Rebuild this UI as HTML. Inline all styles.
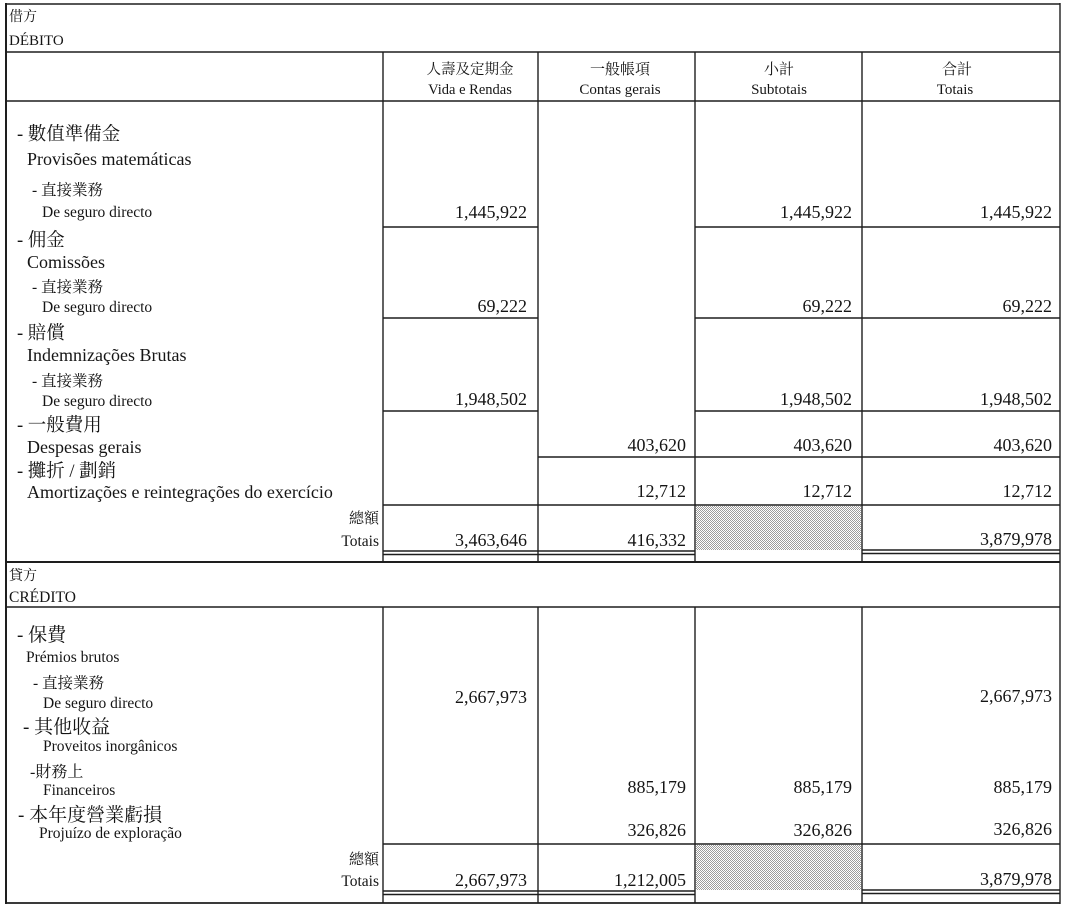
<!DOCTYPE html>
<html>
<head>
<meta charset="utf-8">
<style>
html,body{margin:0;padding:0;background:#fff;}
svg{display:block;}
text{font-family:"Liberation Serif","Noto Serif CJK SC",serif;fill:#151515;}
.n{font-size:18px;text-anchor:end;}
.r{text-anchor:end;}
.h{text-anchor:middle;}
</style>
</head>
<body>
<svg width="1070" height="922" viewBox="0 0 1070 922" xmlns="http://www.w3.org/2000/svg">
<defs>
<pattern id="dots" width="2" height="2" patternUnits="userSpaceOnUse">
<rect width="2" height="2" fill="#ffffff"/>
<rect x="0" y="0" width="1" height="1" fill="#9c9c9c"/>
<rect x="1" y="1" width="1" height="1" fill="#9c9c9c"/>
</pattern>
</defs>

<!-- shaded cells -->
<rect x="696" y="506" width="165" height="44" fill="url(#dots)"/>
<rect x="696" y="845" width="165" height="45" fill="url(#dots)"/>

<g stroke="#1e1e1e" stroke-width="1.4" fill="none">
<!-- outer box -->
<line x1="6" y1="4" x2="1060" y2="4"/>
<line x1="6" y1="3" x2="6" y2="904" stroke-width="2"/>
<line x1="1060" y1="3" x2="1060" y2="904"/>
<line x1="6" y1="903" x2="1060" y2="903" stroke-width="1.8"/>

<!-- debit header -->
<line x1="6" y1="52" x2="1060" y2="52"/>
<line x1="6" y1="101" x2="1060" y2="101"/>
<line x1="383" y1="52" x2="383" y2="562"/>
<line x1="538" y1="52" x2="538" y2="562"/>
<line x1="695" y1="52" x2="695" y2="562"/>
<line x1="862" y1="52" x2="862" y2="562"/>

<!-- debit row lines -->
<line x1="383" y1="227" x2="538" y2="227"/>
<line x1="695" y1="227" x2="1060" y2="227"/>
<line x1="383" y1="318" x2="538" y2="318"/>
<line x1="695" y1="318" x2="1060" y2="318"/>
<line x1="383" y1="411" x2="538" y2="411"/>
<line x1="695" y1="411" x2="1060" y2="411"/>
<line x1="538" y1="457" x2="1060" y2="457"/>
<line x1="383" y1="505" x2="1060" y2="505"/>
<!-- debit double lines -->
<line x1="383" y1="551" x2="695" y2="551"/>
<line x1="383" y1="554.5" x2="695" y2="554.5"/>
<line x1="862" y1="550" x2="1060" y2="550"/>
<line x1="862" y1="553.5" x2="1060" y2="553.5"/>

<!-- section line -->
<line x1="6" y1="562" x2="1060" y2="562" stroke-width="2"/>

<!-- credit -->
<line x1="6" y1="607" x2="1060" y2="607"/>
<line x1="383" y1="607" x2="383" y2="903"/>
<line x1="538" y1="607" x2="538" y2="903"/>
<line x1="695" y1="607" x2="695" y2="903"/>
<line x1="862" y1="607" x2="862" y2="903"/>
<line x1="383" y1="844" x2="1060" y2="844"/>
<line x1="383" y1="891" x2="695" y2="891"/>
<line x1="383" y1="894.5" x2="695" y2="894.5"/>
<line x1="862" y1="890" x2="1060" y2="890"/>
<line x1="862" y1="893.5" x2="1060" y2="893.5"/>
</g>

<!-- DEBIT header texts -->
<text x="9" y="21" font-size="14">借方</text>
<text x="9" y="45" font-size="15">DÉBITO</text>

<text x="470" y="74" font-size="14.5" class="h">人壽及定期金</text>
<text x="470" y="94" font-size="14.5" class="h">Vida e Rendas</text>
<text x="620" y="74" font-size="15" class="h">一般帳項</text>
<text x="620" y="94" font-size="15" class="h">Contas gerais</text>
<text x="779" y="74" font-size="15" class="h">小計</text>
<text x="779" y="94" font-size="15" class="h">Subtotais</text>
<text x="957" y="74" font-size="15" class="h">合計</text>
<text x="955" y="94" font-size="15" class="h">Totais</text>

<!-- debit labels -->
<text x="17" y="140" font-size="18.5">- 數值準備金</text>
<text x="27" y="165" font-size="18">Provisões matemáticas</text>
<text x="32" y="195" font-size="15.5">- 直接業務</text>
<text x="42" y="217" font-size="15.5">De seguro directo</text>

<text x="17" y="246" font-size="18.5">- 佣金</text>
<text x="27" y="268" font-size="18">Comissões</text>
<text x="32" y="292" font-size="15.5">- 直接業務</text>
<text x="42" y="312" font-size="15.5">De seguro directo</text>

<text x="17" y="339" font-size="18.5">- 賠償</text>
<text x="27" y="361" font-size="18">Indemnizações Brutas</text>
<text x="32" y="386" font-size="15.5">- 直接業務</text>
<text x="42" y="406" font-size="15.5">De seguro directo</text>

<text x="17" y="431" font-size="18.5">- 一般費用</text>
<text x="27" y="453" font-size="18">Despesas gerais</text>
<text x="17" y="477" font-size="18.5">- 攤折 / 劃銷</text>
<text x="27" y="498" font-size="18">Amortizações e reintegrações do exercício</text>

<text x="379" y="523" font-size="15" class="r">總額</text>
<text x="379" y="546" font-size="15.5" class="r">Totais</text>

<!-- debit numbers -->
<text x="527" y="218" class="n">1,445,922</text>
<text x="852" y="218" class="n">1,445,922</text>
<text x="1052" y="218" class="n">1,445,922</text>

<text x="527" y="312" class="n">69,222</text>
<text x="852" y="312" class="n">69,222</text>
<text x="1052" y="312" class="n">69,222</text>

<text x="527" y="405" class="n">1,948,502</text>
<text x="852" y="405" class="n">1,948,502</text>
<text x="1052" y="405" class="n">1,948,502</text>

<text x="686" y="451" class="n">403,620</text>
<text x="852" y="451" class="n">403,620</text>
<text x="1052" y="451" class="n">403,620</text>

<text x="686" y="497" class="n">12,712</text>
<text x="852" y="497" class="n">12,712</text>
<text x="1052" y="497" class="n">12,712</text>

<text x="527" y="546" class="n">3,463,646</text>
<text x="686" y="546" class="n">416,332</text>
<text x="1052" y="545" class="n">3,879,978</text>

<!-- CREDIT header -->
<text x="9" y="580" font-size="14">貸方</text>
<text x="9" y="602" font-size="15.5">CRÉDITO</text>

<!-- credit labels -->
<text x="17" y="641" font-size="19">- 保費</text>
<text x="26" y="662" font-size="15.5">Prémios brutos</text>
<text x="33" y="688" font-size="15.5">- 直接業務</text>
<text x="43" y="708" font-size="15.5">De seguro directo</text>
<text x="23" y="733" font-size="19">- 其他收益</text>
<text x="43" y="751" font-size="15.5">Proveitos inorgânicos</text>
<text x="30" y="777" font-size="16">-財務上</text>
<text x="43" y="795" font-size="15.5">Financeiros</text>
<text x="18" y="821" font-size="19">- 本年度營業虧損</text>
<text x="39" y="838" font-size="15.5">Projuízo de exploração</text>

<text x="379" y="864" font-size="15" class="r">總額</text>
<text x="379" y="886" font-size="15.5" class="r">Totais</text>

<!-- credit numbers -->
<text x="527" y="703" class="n">2,667,973</text>
<text x="1052" y="702" class="n">2,667,973</text>

<text x="686" y="793" class="n">885,179</text>
<text x="852" y="793" class="n">885,179</text>
<text x="1052" y="793" class="n">885,179</text>

<text x="686" y="836" class="n">326,826</text>
<text x="852" y="836" class="n">326,826</text>
<text x="1052" y="835" class="n">326,826</text>

<text x="527" y="886" class="n">2,667,973</text>
<text x="686" y="886" class="n">1,212,005</text>
<text x="1052" y="885" class="n">3,879,978</text>
</svg>
</body>
</html>
